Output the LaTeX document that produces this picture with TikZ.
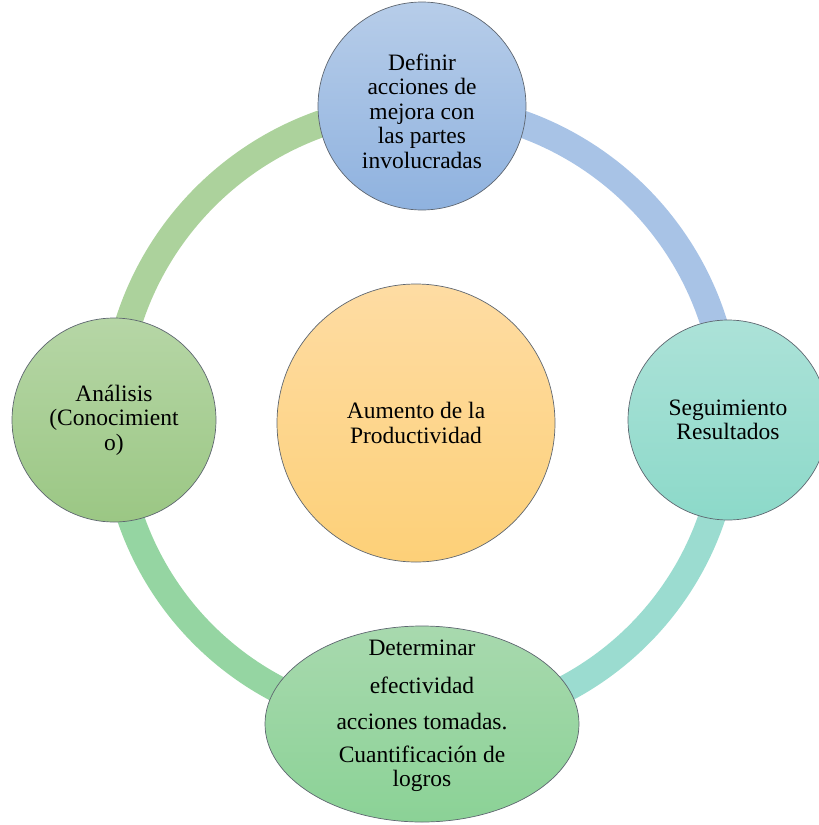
\documentclass[tikz,border=0pt]{standalone}
\usepackage{fontspec}
\setmainfont{Liberation Serif}
\usetikzlibrary{shapes.geometric,backgrounds}

\definecolor{borde}{HTML}{5E6670}
\definecolor{azulA}{HTML}{B7CDE9}
\definecolor{azulB}{HTML}{8FB2DF}
\definecolor{tealA}{HTML}{ACE2D8}
\definecolor{tealB}{HTML}{8CD9C9}
\definecolor{verdeA}{HTML}{A8D9AE}
\definecolor{verdeB}{HTML}{8BD296}
\definecolor{olivaA}{HTML}{B6D6A6}
\definecolor{olivaB}{HTML}{9BC784}
\definecolor{naranjaA}{HTML}{FEDCA3}
\definecolor{naranjaB}{HTML}{FDD078}
\definecolor{arcoUno}{HTML}{ACD29C}
\definecolor{arcoDos}{HTML}{A8C3E6}
\definecolor{arcoTres}{HTML}{9BDCD0}
\definecolor{arcoCuatro}{HTML}{95D5A2}

\begin{document}
\begin{tikzpicture}[
		x=1pt,y=-1pt,
		etapa/.style={circle,draw=borde,line width=0.7pt,inner sep=0pt,align=center,
			font=\fontsize{23.5}{24.5}\selectfont},
		texto/.style={font=\fontsize{23.5}{24.5}\selectfont,align=center},
		anillo/.style={line width=27pt}]
		
		\useasboundingbox (0,0) rectangle (819,825);
		
		\node[etapa,minimum size=208,top color=azulA,bottom color=azulB,
			label={[texto,yshift=-5]center:Definir\\acciones de\\mejora con\\las partes\\involucradas}] (definir) at (422,106) {};
		\node[etapa,minimum size=200,top color=tealA,bottom color=tealB] (seguimiento) at (728,420)
			{Seguimiento\\Resultados};
		\node[etapa,ellipse,minimum width=314,minimum height=196,top color=verdeA,bottom color=verdeB,
			label={[texto,yshift=8]center:Determinar\\[13pt]efectividad\\[12pt]acciones tomadas.\\[8pt]Cuantificación de\\logros}] (determinar) at (422,724) {};
		\node[etapa,minimum size=204,top color=olivaA,bottom color=olivaB] (analisis) at (114,420)
			{Análisis\\(Conocimient\\o)};
		\node[etapa,minimum size=278,top color=naranjaA,bottom color=naranjaB] (aumento) at (416,423)
			{Aumento de la\\Productividad};
		
		\begin{scope}[on background layer]
			\draw[anillo,arcoUno] (analisis.center) to[bend left=45] (definir.center);
			\draw[anillo,arcoDos] (definir.center) to[bend left=45] (seguimiento.center);
			\draw[anillo,arcoTres] (seguimiento.center) to[bend left=45] (determinar.center);
			\draw[anillo,arcoCuatro] (determinar.center) to[bend left=45] (analisis.center);
		\end{scope}
		
\end{tikzpicture}
\end{document}
